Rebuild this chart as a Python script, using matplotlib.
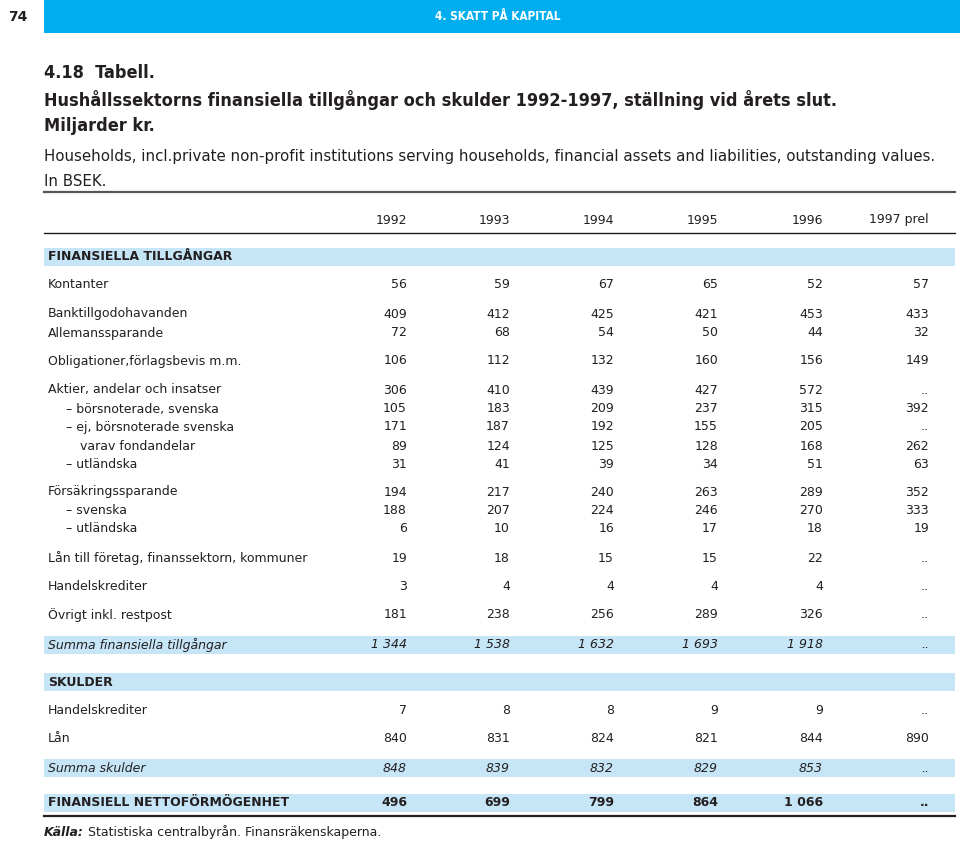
#!/usr/bin/env python3

import matplotlib.pyplot as plt

# table data (None = "..")
years = ['1992', '1993', '1994', '1995', '1996', '1997 prel']

labels = ['Kontanter', 'Banktillgodohavanden', 'Allemanssparande',
          'Obligationer,förlagsbevis m.m.', 'Aktier, andelar och insatser',
          '– börsnoterade, svenska', '– ej, börsnoterade svenska',
          'varav fondandelar', '– utländska', 'Försäkringssparande',
          '– svenska', '– utländska', 'Lån till företag, finanssektorn, kommuner',
          'Handelskrediter', 'Övrigt inkl. restpost', 'Summa finansiella tillgångar',
          'Handelskrediter', 'Lån', 'Summa skulder', 'FINANSIELL NETTOFÖRMÖGENHET']

kind = ['n', 'n', 'n', 'n', 'n', 'd', 'd', 'v', 'd', 'n',
        'd', 'd', 'n', 'n', 'n', 'sum', 'n', 'n', 'sum', 'net']

v1992 = [56, 409, 72, 106, 306, 105, 171, 89, 31, 194, 188, 6, 19, 3, 181, 1344, 7, 840, 848, 496]
v1993 = [59, 412, 68, 112, 410, 183, 187, 124, 41, 217, 207, 10, 18, 4, 238, 1538, 8, 831, 839, 699]
v1994 = [67, 425, 54, 132, 439, 209, 192, 125, 39, 240, 224, 16, 15, 4, 256, 1632, 8, 824, 832, 799]
v1995 = [65, 421, 50, 160, 427, 237, 155, 128, 34, 263, 246, 17, 15, 4, 289, 1693, 9, 821, 829, 864]
v1996 = [52, 453, 44, 156, 572, 315, 205, 168, 51, 289, 270, 18, 22, 4, 326, 1918, 9, 844, 853, 1066]
v1997 = [57, 433, 32, 149, None, 392, None, 262, 63, 352, 333, 19, None, None, None, None, None, 890, None, None]

columns = [v1992, v1993, v1994, v1995, v1996, v1997]

# layout (pixels)
row_y = [285, 314, 333, 361, 390, 409, 427, 446, 464, 492, 511, 529, 558, 587, 615,
         645, 710, 739, 768, 803]
col_x = [407, 510, 614, 718, 823, 929]
label_x = {'n': 48, 'd': 66, 'v': 80, 'sum': 48, 'net': 48}

ink = '#231f20'
band = '#c6e6f8'
cyan = '#00aeef'
fs = 9

def fmt(v):
    if v is None:
        return '..'
    return '{:,}'.format(v).replace(',', ' ')

fig = plt.figure(figsize=(9.6, 8.44), dpi=100)
ax = fig.add_axes([0, 0, 1, 1])
ax.set_xlim(0, 960)
ax.set_ylim(844, 0)
ax.axis('off')

# page header
ax.axhspan(0, 33, xmin=44/960, xmax=1, color=cyan, lw=0)
ax.text(8, 17, '74', fontsize=10, fontweight='bold', va='center', color=ink)
ax.text(498, 17, '4. SKATT PÅ KAPITAL', fontsize=8.5, color='white',
        ha='center', va='center', fontweight='bold', fontstretch='condensed')

# titles
tkw = dict(fontsize=13, fontweight='bold', va='center', color=ink, fontstretch='condensed')
ax.text(44, 73, '4.18  Tabell.', **tkw)
ax.text(44, 100, 'Hushållssektorns finansiella tillgångar och skulder 1992-1997, ställning vid årets slut.', **tkw)
ax.text(44, 126, 'Miljarder kr.', **tkw)
ax.text(44, 157, 'Households, incl.private non-profit institutions serving households, '
        'financial assets and liabilities, outstanding values.', fontsize=10.8, va='center', color=ink)
ax.text(44, 181, 'In BSEK.', fontsize=10.8, va='center', color=ink)

ax.plot([44, 955], [192, 192], color='#555555', lw=1.6)
for x, y in zip(col_x, years):
    ax.text(x, 220, y, fontsize=fs, ha='right', va='center', color=ink)
ax.plot([44, 955], [233, 233], color=ink, lw=1.0)

# section bands
for y0, y1 in [(248, 266), (673, 691)]:
    ax.axhspan(y0, y1, xmin=44/960, xmax=955/960, color=band, lw=0)
ax.text(48, 257, 'FINANSIELLA TILLGÅNGAR', fontsize=fs, fontweight='bold', va='center', color=ink)
ax.text(48, 682, 'SKULDER', fontsize=fs, fontweight='bold', va='center', color=ink)

for i, lab in enumerate(labels):
    y = row_y[i]
    k = kind[i]
    style = 'normal'
    weight = 'normal'
    if k in ('sum', 'net'):
        ax.axhspan(y - 9, y + 9, xmin=44/960, xmax=955/960, color=band, lw=0)
    if k == 'sum':
        style = 'italic'
    if k == 'net':
        weight = 'bold'
    ax.text(label_x[k], y, lab, fontsize=fs, style=style, fontweight=weight,
            va='center', color=ink)
    for x, col in zip(col_x, columns):
        ax.text(x, y, fmt(col[i]), fontsize=fs, style=style, fontweight=weight,
                ha='right', va='center', color=ink)

ax.plot([44, 955], [816, 816], color=ink, lw=1.6)

# source
src = ax.text(44, 832, 'Källa:', fontsize=fs, fontweight='bold', style='italic',
              va='center', color=ink)
ax.annotate(' Statistiska centralbyrån. Finansräkenskaperna.', xy=(1, 0.5),
            xycoords=src, fontsize=fs, va='center', color=ink)

plt.savefig('out.png', dpi=100)
